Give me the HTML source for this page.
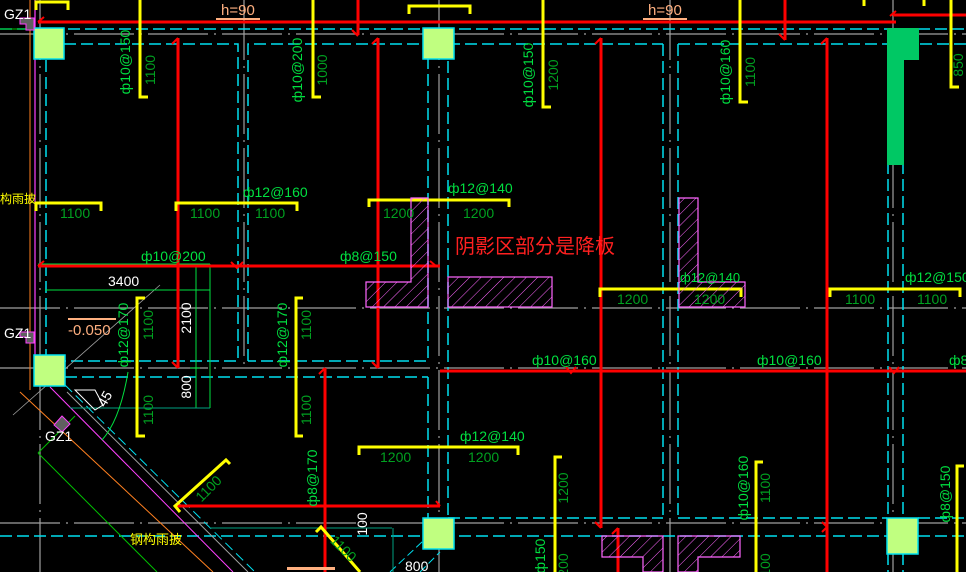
<!DOCTYPE html>
<html><head><meta charset="utf-8"><style>
html,body{margin:0;padding:0;background:#000;}
svg{display:block;}
text{font-family:"Liberation Sans","Noto Sans CJK SC",sans-serif;}
.g{fill:#00e040;font-size:14px;}
.d{fill:#00a020;font-size:14px;}
.w{fill:#fff;font-size:14px;}
</style></head><body>
<svg width="966" height="572" viewBox="0 0 966 572" xmlns="http://www.w3.org/2000/svg">
<defs>
<pattern id="h" width="8" height="8" patternUnits="userSpaceOnUse" patternTransform="rotate(45)">
<line x1="0" y1="0" x2="0" y2="8" stroke="#ff66ff" stroke-width="1"/></pattern>
</defs>
<rect width="966" height="572" fill="#000"/>
<g stroke="#a0a0a0" stroke-width="1.2" fill="none" stroke-dasharray="60 6 2 6">
<line x1="0" y1="34" x2="966" y2="34"/>
<line x1="0" y1="308" x2="966" y2="308"/>
<line x1="0" y1="368" x2="966" y2="368"/>
<line x1="0" y1="523" x2="966" y2="523"/>
<line x1="40" y1="0" x2="40" y2="572"/>
<line x1="244" y1="0" x2="244" y2="370"/>
<line x1="439" y1="0" x2="439" y2="572"/>
<line x1="670" y1="0" x2="670" y2="572"/>
<line x1="893" y1="0" x2="893" y2="572"/>
</g>
<g stroke="#00e0f0" stroke-width="1.5" fill="none" stroke-dasharray="12 5">
<line x1="0" y1="29" x2="966" y2="29"/>
<polyline points="64,44 238,44 238,361 64,361"/>
<polyline points="248,361 248,44 428,44 428,361 248,361"/>
<line x1="448" y1="44" x2="663" y2="44"/>
<line x1="448" y1="44" x2="448" y2="518"/>
<line x1="663" y1="44" x2="663" y2="518"/>
<line x1="678" y1="44" x2="678" y2="518"/>
<line x1="678" y1="44" x2="888" y2="44"/>
<line x1="903" y1="44" x2="966" y2="44"/>
<line x1="888" y1="60" x2="888" y2="572"/>
<line x1="903" y1="60" x2="903" y2="572"/>
<line x1="46" y1="60" x2="46" y2="355"/>
<line x1="65" y1="377" x2="428" y2="377"/>
<line x1="428" y1="377" x2="428" y2="518"/>
<line x1="448" y1="518" x2="663" y2="518"/>
<line x1="678" y1="518" x2="887" y2="518"/>
<line x1="0" y1="536" x2="966" y2="536"/>
<line x1="918" y1="518" x2="966" y2="518"/>
</g>
<line x1="20" y1="392" x2="213" y2="572" stroke="#ff8020" stroke-width="1"/>
<line x1="50" y1="387" x2="233" y2="572" stroke="#ff40ff" stroke-width="1"/>
<line x1="67" y1="392" x2="248" y2="572" stroke="#a0a0a0" stroke-width="1"/>
<line x1="65" y1="385" x2="255" y2="572" stroke="#00e0f0" stroke-width="1" stroke-dasharray="10 5"/>
<line x1="38" y1="453" x2="157" y2="572" stroke="#00c000" stroke-width="1"/>
<line x1="38" y1="453" x2="75" y2="416" stroke="#00c000" stroke-width="1"/>
<line x1="13" y1="415" x2="160" y2="285" stroke="#a0a0a0" stroke-width="0.8"/>
<line x1="390" y1="572" x2="440" y2="525" stroke="#00e0f0" stroke-width="1" stroke-dasharray="8 4"/>
<line x1="420" y1="572" x2="440" y2="552" stroke="#00e0f0" stroke-width="1" stroke-dasharray="8 4"/>
<line x1="30" y1="0" x2="30" y2="390" stroke="#ff8020" stroke-width="1"/>
<line x1="35" y1="0" x2="35" y2="355" stroke="#ff40ff" stroke-width="1.2"/>
<line x1="0" y1="29" x2="34" y2="29" stroke="#00c000" stroke-width="1"/>
<g stroke="#00e040" stroke-width="1" fill="none">
<line x1="38" y1="264" x2="210" y2="264"/>
<line x1="196" y1="264" x2="196" y2="408"/>
<line x1="210" y1="264" x2="210" y2="408"/>
<line x1="45" y1="290" x2="210" y2="290"/>
<line x1="190" y1="368" x2="200" y2="368"/>
<line x1="70" y1="408" x2="210" y2="408" stroke="#00a080"/>
<path d="M128 372 Q120 420 102 440"/>
<line x1="210" y1="528" x2="392" y2="528" stroke="#00a080"/>
<line x1="393" y1="528" x2="393" y2="572" stroke="#00a080"/>
</g>
<polygon points="75,390 95,390 103,405 95,410" fill="none" stroke="#fff" stroke-width="1"/>
<text x="105" y="408" class="w" font-size="12" transform="rotate(-60 105 408)">45</text>
<g stroke="#ff0000" stroke-width="3" fill="none">
<line x1="38" y1="22" x2="896" y2="22"/>
<line x1="893" y1="15" x2="966" y2="15"/>
<line x1="38" y1="266" x2="440" y2="266"/>
<line x1="440" y1="371" x2="966" y2="371"/>
<line x1="175" y1="506" x2="440" y2="506"/>
<line x1="178" y1="38" x2="178" y2="368"/>
<line x1="378" y1="38" x2="378" y2="368"/>
<line x1="358" y1="0" x2="358" y2="35"/>
<line x1="601" y1="38" x2="601" y2="528"/>
<line x1="785" y1="0" x2="785" y2="40"/>
<line x1="827" y1="38" x2="827" y2="572"/>
<line x1="325" y1="368" x2="325" y2="572"/>
<line x1="618" y1="528" x2="618" y2="572"/>
</g>
<g stroke="#ff0000" stroke-width="2" fill="none">
<path d="M172 44 L178 38"/><path d="M372 44 L378 38"/><path d="M595 44 L601 38"/><path d="M821 44 L827 38"/>
<path d="M44 17 L38 22"/><path d="M352 30 L358 36"/><path d="M779 34 L785 40"/>
<path d="M231 262 L237 268 L243 262"/><path d="M430 261 L436 266"/><path d="M44 261 L38 266"/>
<path d="M566 367 L571 373 L576 367"/><path d="M889 367 L894 373 L899 367"/>
<path d="M172 362 L178 368"/><path d="M372 362 L378 368"/><path d="M319 374 L325 368"/>
<path d="M595 522 L601 528"/><path d="M612 534 L618 528"/><path d="M822 522 L827 527 L822 532"/>
<path d="M436 501 L440 506"/><path d="M896 11 L890 16"/>
</g>
<g stroke="#ffff00" stroke-width="3" fill="none">
<polyline points="36,10 36,2 68,2 68,10"/>
<polyline points="409,14 409,6 470,6 470,14"/>
<polyline points="140,0 140,97 148,97"/>
<polyline points="313,0 313,97 321,97"/>
<polyline points="543,0 543,107 551,107"/>
<polyline points="740,0 740,102 748,102"/>
<polyline points="951,0 951,87 959,87"/>
<line x1="864" y1="0" x2="864" y2="6"/><line x1="924" y1="0" x2="924" y2="6"/>
<polyline points="36,211 36,203 101,203 101,211"/>
<polyline points="176,211 176,203 297,203 297,211"/>
<polyline points="369,207 369,200 509,200 509,207"/>
<polyline points="600,297 600,289 741,289 741,297"/>
<polyline points="830,297 830,289 960,289 960,297"/>
<polyline points="145,298 137,298 137,436 145,436"/>
<polyline points="303,298 296,298 296,436 303,436"/>
<polyline points="359,455 359,447 518,447 518,455"/>
<polyline points="562,457 555,457 555,572"/>
<polyline points="763,462 756,462 756,572"/>
<polyline points="964,466 957,466 957,572"/>
<polyline points="180,512 175,506 226,460 230,464"/>
<polyline points="316,532 321,527 360,572"/>
</g>
<g stroke="#ff66ff" stroke-width="1.2" fill="url(#h)">
<path d="M411 198 H428 V307 H366 V282 H411 Z"/>
<rect x="448" y="277" width="104" height="30"/>
<path d="M679 198 H698 V282 H745 V307 H679 Z"/>
<path d="M602 536 H663 V572 H643 V557 H602 Z"/>
<path d="M678 536 H740 V557 H698 V572 H678 Z"/>
</g>
<g fill="#c0ff80" stroke="#00e0f0" stroke-width="1.5">
<rect x="34" y="28" width="30" height="31"/>
<rect x="423" y="28" width="31" height="31"/>
<rect x="34" y="355" width="31" height="31"/>
<rect x="423" y="518" width="31" height="31"/>
<rect x="887" y="518" width="31" height="36"/>
</g>
<path d="M887 28 H919 V60 H904 V165 H887 Z" fill="#00c864"/>
<path d="M20 18 H34 V30 H26 V24 H20 Z" fill="#606060" stroke="#ff40ff"/>
<path d="M20 332 H34 V343 H26 V337 H20 Z" fill="#606060" stroke="#ff40ff"/>
<path d="M54 425 L62 416 L70 424 L62 432 Z" fill="#606060" stroke="#ff40ff"/>
<rect x="216" y="18" width="44" height="2" fill="#ffb080"/>
<rect x="643" y="18" width="44" height="2" fill="#ffb080"/>
<rect x="68" y="318" width="48" height="2" fill="#ffb080"/>
<rect x="287" y="567" width="48" height="3" fill="#ffb080"/>
<text x="221" y="15" fill="#ffb080" font-size="15">h=90</text>
<text x="648" y="15" fill="#ffb080" font-size="15">h=90</text>
<text x="68" y="335" fill="#ffb080" font-size="15">-0.050</text>
<text x="4" y="19" class="w" font-size="13">GZ1</text>
<text x="4" y="338" class="w" font-size="13">GZ1</text>
<text x="45" y="441" class="w" font-size="13">GZ1</text>
<text x="0" y="203" fill="#ffff00" font-size="12">构雨披</text>
<text x="130" y="544" fill="#ffff00" font-size="13">钢构雨披</text>
<text x="455" y="253" fill="#ff2020" font-size="20">阴影区部分是降板</text>
<text x="108" y="286" class="w" font-size="15">3400</text>
<g class="w">
<text transform="translate(191,318) rotate(-90)" text-anchor="middle">2100</text>
<text transform="translate(191,387) rotate(-90)" text-anchor="middle">800</text>
<text transform="translate(367,524) rotate(-90)" text-anchor="middle">100</text>
</g>
<text x="405" y="571" class="w">800</text>
<g class="g">
<text x="243" y="197">ф12@160</text>
<text x="448" y="193">ф12@140</text>
<text x="141" y="261">ф10@200</text>
<text x="340" y="261">ф8@150</text>
<text x="680" y="282" font-size="13">ф12@140</text>
<text x="905" y="282">ф12@150</text>
<text x="532" y="365">ф10@160</text>
<text x="757" y="365">ф10@160</text>
<text x="949" y="365">ф8</text>
<text x="460" y="441">ф12@140</text>
<text transform="translate(130,62) rotate(-90)" text-anchor="middle">ф10@150</text>
<text transform="translate(302,70) rotate(-90)" text-anchor="middle">ф10@200</text>
<text transform="translate(533,75) rotate(-90)" text-anchor="middle">ф10@150</text>
<text transform="translate(730,72) rotate(-90)" text-anchor="middle">ф10@160</text>
<text transform="translate(128,335) rotate(-90)" text-anchor="middle">ф12@170</text>
<text transform="translate(287,335) rotate(-90)" text-anchor="middle">ф12@170</text>
<text transform="translate(317,478) rotate(-90)" text-anchor="middle">ф8@170</text>
<text transform="translate(748,488) rotate(-90)" text-anchor="middle">ф10@160</text>
<text transform="translate(950,494) rotate(-90)" text-anchor="middle">ф8@150</text>
<text transform="translate(545,556) rotate(-90)" text-anchor="middle">ф150</text>
</g>
<g class="d">
<text x="60" y="218">1100</text>
<text x="190" y="218">1100</text>
<text x="255" y="218">1100</text>
<text x="383" y="218">1200</text>
<text x="463" y="218">1200</text>
<text x="617" y="304">1200</text>
<text x="694" y="304">1200</text>
<text x="845" y="304">1100</text>
<text x="917" y="304">1100</text>
<text x="380" y="462">1200</text>
<text x="468" y="462">1200</text>
<text transform="translate(155,70) rotate(-90)" text-anchor="middle">1100</text>
<text transform="translate(327,70) rotate(-90)" text-anchor="middle">1000</text>
<text transform="translate(558,75) rotate(-90)" text-anchor="middle">1200</text>
<text transform="translate(755,72) rotate(-90)" text-anchor="middle">1100</text>
<text transform="translate(963,65) rotate(-90)" text-anchor="middle">850</text>
<text transform="translate(153,325) rotate(-90)" text-anchor="middle">1100</text>
<text transform="translate(153,410) rotate(-90)" text-anchor="middle">1100</text>
<text transform="translate(311,325) rotate(-90)" text-anchor="middle">1100</text>
<text transform="translate(311,410) rotate(-90)" text-anchor="middle">1100</text>
<text transform="translate(568,488) rotate(-90)" text-anchor="middle">1200</text>
<text transform="translate(770,488) rotate(-90)" text-anchor="middle">1100</text>
<text transform="translate(568,565) rotate(-90)" text-anchor="middle">200</text>
<text transform="translate(770,565) rotate(-90)" text-anchor="middle">100</text>
<text transform="translate(212,492) rotate(-45)" text-anchor="middle">1100</text>
<text transform="translate(340,552) rotate(45)" text-anchor="middle">1100</text>
</g>
</svg>
</body></html>
